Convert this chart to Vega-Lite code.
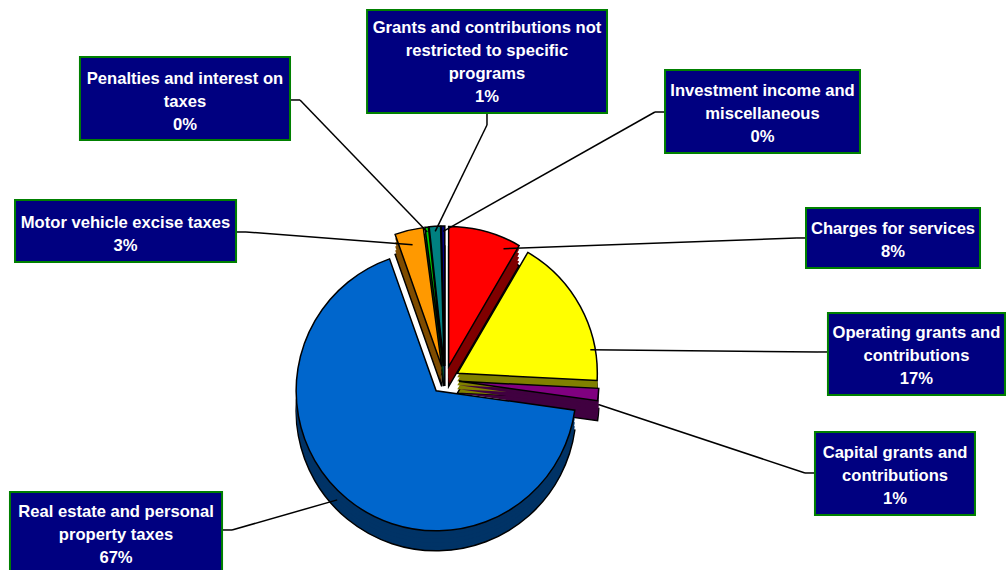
{
  "$schema": "https://vega.github.io/schema/vega-lite/v6.json",
  "width": 1007,
  "height": 570,
  "autosize": {"type": "none"},
  "padding": 0,
  "background": "white",
  "config": {"view": {"stroke": null}},
  "data": {"values": [
    {"key": "charges", "label": "Charges for services", "pct": 8.4, "order": 1},
    {"key": "operating", "label": "Operating grants and\ncontributions", "pct": 17.4, "order": 2},
    {"key": "capital", "label": "Capital grants and\ncontributions", "pct": 1.4, "order": 3},
    {"key": "realestate", "label": "Real estate and personal\nproperty taxes", "pct": 67.4, "order": 4},
    {"key": "motor", "label": "Motor vehicle excise taxes", "pct": 3.3, "order": 5},
    {"key": "penalties", "label": "Penalties and interest on\ntaxes", "pct": 0.4, "order": 6},
    {"key": "grants", "label": "Grants and contributions not\nrestricted to specific\nprograms", "pct": 1.3, "order": 7},
    {"key": "investment", "label": "Investment income and\nmiscellaneous", "pct": 0.4, "order": 8}
  ]},
  "layer": [
    {
      "transform": [{"stack": "pct", "groupby": [], "sort": [{"field": "order", "order": "ascending"}], "offset": "normalize", "as": ["a0", "a1"]}],
      "encoding": {
        "x": {"datum": 44.19, "type": "quantitative", "scale": {"domain": [0, 100]}, "axis": null},
        "y": {"datum": 66.67, "type": "quantitative", "scale": {"domain": [0, 100], "reverse": true}, "axis": null},
        "theta": {"field": "a0", "type": "quantitative", "stack": null, "scale": {"domain": [0, 1]}},
        "theta2": {"field": "a1"}
      },
      "layer": [
        {"mark": {"type": "arc", "radius": 140, "stroke": "black", "strokeWidth": 1.5, "xOffset": {"expr": "14*sin(PI*(datum.a0+datum.a1))"}, "yOffset": {"expr": "20-14*cos(PI*(datum.a0+datum.a1))"}},
         "encoding": {"color": {"field": "key", "type": "nominal", "legend": null, "scale": {"domain": ["charges","operating","capital","realestate","motor","penalties","grants","investment"], "range": ["#800000","#808000","#400040","#003366","#7F4C00","#006600","#004040","#000040"]}}}},
        {"mark": {"type": "arc", "radius": 140, "strokeWidth": 0, "xOffset": {"expr": "14*sin(PI*(datum.a0+datum.a1))"}, "yOffset": {"expr": "16-14*cos(PI*(datum.a0+datum.a1))"}},
         "encoding": {"color": {"field": "key", "type": "nominal", "legend": null}}},
        {"mark": {"type": "arc", "radius": 140, "strokeWidth": 0, "xOffset": {"expr": "14*sin(PI*(datum.a0+datum.a1))"}, "yOffset": {"expr": "12-14*cos(PI*(datum.a0+datum.a1))"}},
         "encoding": {"color": {"field": "key", "type": "nominal", "legend": null}}},
        {"mark": {"type": "arc", "radius": 140, "strokeWidth": 0, "xOffset": {"expr": "14*sin(PI*(datum.a0+datum.a1))"}, "yOffset": {"expr": "8-14*cos(PI*(datum.a0+datum.a1))"}},
         "encoding": {"color": {"field": "key", "type": "nominal", "legend": null}}},
        {"mark": {"type": "arc", "radius": 140, "strokeWidth": 0, "xOffset": {"expr": "14*sin(PI*(datum.a0+datum.a1))"}, "yOffset": {"expr": "4-14*cos(PI*(datum.a0+datum.a1))"}},
         "encoding": {"color": {"field": "key", "type": "nominal", "legend": null}}},
        {"mark": {"type": "arc", "radius": 140, "stroke": "black", "strokeWidth": 1.5, "xOffset": {"expr": "14*sin(PI*(datum.a0+datum.a1))"}, "yOffset": {"expr": "-14*cos(PI*(datum.a0+datum.a1))"}},
         "encoding": {"fill": {"field": "key", "type": "nominal", "legend": null, "scale": {"domain": ["charges","operating","capital","realestate","motor","penalties","grants","investment"], "range": ["#FF0000","#FFFF00","#800080","#0066CC","#FF9900","#00CC00","#008080","#000080"]}}}}
      ]
    },
    {
      "transform": [{"filter": "datum.key==='penalties'"}, {"calculate": "datum.label + '\\n' + format(datum.pct/100, '.0%')", "as": "txt"}],
      "layer": [
        {"mark": {"type": "rule", "color": "black", "strokeWidth": 1.5}, "encoding": {"x": {"datum": 28.80, "type": "quantitative", "scale": {"domain": [0, 100]}, "axis": null}, "x2": {"datum": 29.79}, "y": {"datum": 17.54, "type": "quantitative", "scale": {"domain": [0, 100], "reverse": true}, "axis": null}, "y2": {"datum": 17.54}}},
        {"mark": {"type": "rule", "color": "black", "strokeWidth": 1.5}, "encoding": {"x": {"datum": 29.79, "type": "quantitative", "scale": {"domain": [0, 100]}, "axis": null}, "x2": {"datum": 42.43}, "y": {"datum": 17.54, "type": "quantitative", "scale": {"domain": [0, 100], "reverse": true}, "axis": null}, "y2": {"datum": 40.72}}},
        {"mark": {"type": "rect", "fill": "#000080", "stroke": "#008000", "strokeWidth": 2}, "encoding": {"x": {"datum": 7.94, "type": "quantitative", "scale": {"domain": [0, 100]}, "axis": null}, "x2": {"datum": 28.80}, "y": {"datum": 10.0, "type": "quantitative", "scale": {"domain": [0, 100], "reverse": true}, "axis": null}, "y2": {"datum": 24.56}}},
        {"mark": {"type": "text", "font": "Liberation Sans", "fontWeight": "bold", "fontSize": 16.6, "lineHeight": 23, "fill": "white", "align": "center", "baseline": "middle", "lineBreak": "\n"}, "encoding": {"x": {"datum": 18.37, "type": "quantitative", "scale": {"domain": [0, 100]}, "axis": null}, "y": {"datum": 13.78, "type": "quantitative", "scale": {"domain": [0, 100], "reverse": true}, "axis": null}, "text": {"field": "txt"}}}
      ]
    },
    {
      "transform": [{"filter": "datum.key==='grants'"}, {"calculate": "datum.label + '\\n' + format(datum.pct/100, '.0%')", "as": "txt"}],
      "layer": [
        {"mark": {"type": "rule", "color": "black", "strokeWidth": 1.5}, "encoding": {"x": {"datum": 48.36, "type": "quantitative", "scale": {"domain": [0, 100]}, "axis": null}, "x2": {"datum": 48.36}, "y": {"datum": 19.82, "type": "quantitative", "scale": {"domain": [0, 100], "reverse": true}, "axis": null}, "y2": {"datum": 21.93}}},
        {"mark": {"type": "rule", "color": "black", "strokeWidth": 1.5}, "encoding": {"x": {"datum": 48.36, "type": "quantitative", "scale": {"domain": [0, 100]}, "axis": null}, "x2": {"datum": 43.22}, "y": {"datum": 21.93, "type": "quantitative", "scale": {"domain": [0, 100], "reverse": true}, "axis": null}, "y2": {"datum": 40.58}}},
        {"mark": {"type": "rect", "fill": "#000080", "stroke": "#008000", "strokeWidth": 2}, "encoding": {"x": {"datum": 36.45, "type": "quantitative", "scale": {"domain": [0, 100]}, "axis": null}, "x2": {"datum": 60.28}, "y": {"datum": 1.75, "type": "quantitative", "scale": {"domain": [0, 100], "reverse": true}, "axis": null}, "y2": {"datum": 19.82}}},
        {"mark": {"type": "text", "font": "Liberation Sans", "fontWeight": "bold", "fontSize": 16.6, "lineHeight": 23, "fill": "white", "align": "center", "baseline": "middle", "lineBreak": "\n"}, "encoding": {"x": {"datum": 48.36, "type": "quantitative", "scale": {"domain": [0, 100]}, "axis": null}, "y": {"datum": 4.84, "type": "quantitative", "scale": {"domain": [0, 100], "reverse": true}, "axis": null}, "text": {"field": "txt"}}}
      ]
    },
    {
      "transform": [{"filter": "datum.key==='investment'"}, {"calculate": "datum.label + '\\n' + format(datum.pct/100, '.0%')", "as": "txt"}],
      "layer": [
        {"mark": {"type": "rule", "color": "black", "strokeWidth": 1.5}, "encoding": {"x": {"datum": 66.04, "type": "quantitative", "scale": {"domain": [0, 100]}, "axis": null}, "x2": {"datum": 65.04}, "y": {"datum": 19.65, "type": "quantitative", "scale": {"domain": [0, 100], "reverse": true}, "axis": null}, "y2": {"datum": 19.65}}},
        {"mark": {"type": "rule", "color": "black", "strokeWidth": 1.5}, "encoding": {"x": {"datum": 65.04, "type": "quantitative", "scale": {"domain": [0, 100]}, "axis": null}, "x2": {"datum": 44.01}, "y": {"datum": 19.65, "type": "quantitative", "scale": {"domain": [0, 100], "reverse": true}, "axis": null}, "y2": {"datum": 40.58}}},
        {"mark": {"type": "rect", "fill": "#000080", "stroke": "#008000", "strokeWidth": 2}, "encoding": {"x": {"datum": 66.04, "type": "quantitative", "scale": {"domain": [0, 100]}, "axis": null}, "x2": {"datum": 85.40}, "y": {"datum": 12.28, "type": "quantitative", "scale": {"domain": [0, 100], "reverse": true}, "axis": null}, "y2": {"datum": 26.84}}},
        {"mark": {"type": "text", "font": "Liberation Sans", "fontWeight": "bold", "fontSize": 16.6, "lineHeight": 23, "fill": "white", "align": "center", "baseline": "middle", "lineBreak": "\n"}, "encoding": {"x": {"datum": 75.72, "type": "quantitative", "scale": {"domain": [0, 100]}, "axis": null}, "y": {"datum": 15.89, "type": "quantitative", "scale": {"domain": [0, 100], "reverse": true}, "axis": null}, "text": {"field": "txt"}}}
      ]
    },
    {
      "transform": [{"filter": "datum.key==='motor'"}, {"calculate": "datum.label + '\\n' + format(datum.pct/100, '.0%')", "as": "txt"}],
      "layer": [
        {"mark": {"type": "rule", "color": "black", "strokeWidth": 1.5}, "encoding": {"x": {"datum": 23.44, "type": "quantitative", "scale": {"domain": [0, 100]}, "axis": null}, "x2": {"datum": 24.43}, "y": {"datum": 40.70, "type": "quantitative", "scale": {"domain": [0, 100], "reverse": true}, "axis": null}, "y2": {"datum": 40.70}}},
        {"mark": {"type": "rule", "color": "black", "strokeWidth": 1.5}, "encoding": {"x": {"datum": 24.43, "type": "quantitative", "scale": {"domain": [0, 100]}, "axis": null}, "x2": {"datum": 40.97}, "y": {"datum": 40.70, "type": "quantitative", "scale": {"domain": [0, 100], "reverse": true}, "axis": null}, "y2": {"datum": 42.96}}},
        {"mark": {"type": "rect", "fill": "#000080", "stroke": "#008000", "strokeWidth": 2}, "encoding": {"x": {"datum": 1.49, "type": "quantitative", "scale": {"domain": [0, 100]}, "axis": null}, "x2": {"datum": 23.44}, "y": {"datum": 35.09, "type": "quantitative", "scale": {"domain": [0, 100], "reverse": true}, "axis": null}, "y2": {"datum": 45.96}}},
        {"mark": {"type": "text", "font": "Liberation Sans", "fontWeight": "bold", "fontSize": 16.6, "lineHeight": 23, "fill": "white", "align": "center", "baseline": "middle", "lineBreak": "\n"}, "encoding": {"x": {"datum": 12.46, "type": "quantitative", "scale": {"domain": [0, 100]}, "axis": null}, "y": {"datum": 39.05, "type": "quantitative", "scale": {"domain": [0, 100], "reverse": true}, "axis": null}, "text": {"field": "txt"}}}
      ]
    },
    {
      "transform": [{"filter": "datum.key==='charges'"}, {"calculate": "datum.label + '\\n' + format(datum.pct/100, '.0%')", "as": "txt"}],
      "layer": [
        {"mark": {"type": "rule", "color": "black", "strokeWidth": 1.5}, "encoding": {"x": {"datum": 80.04, "type": "quantitative", "scale": {"domain": [0, 100]}, "axis": null}, "x2": {"datum": 79.05}, "y": {"datum": 41.75, "type": "quantitative", "scale": {"domain": [0, 100], "reverse": true}, "axis": null}, "y2": {"datum": 41.75}}},
        {"mark": {"type": "rule", "color": "black", "strokeWidth": 1.5}, "encoding": {"x": {"datum": 79.05, "type": "quantitative", "scale": {"domain": [0, 100]}, "axis": null}, "x2": {"datum": 50.00}, "y": {"datum": 41.75, "type": "quantitative", "scale": {"domain": [0, 100], "reverse": true}, "axis": null}, "y2": {"datum": 43.63}}},
        {"mark": {"type": "rect", "fill": "#000080", "stroke": "#008000", "strokeWidth": 2}, "encoding": {"x": {"datum": 80.04, "type": "quantitative", "scale": {"domain": [0, 100]}, "axis": null}, "x2": {"datum": 97.32}, "y": {"datum": 36.49, "type": "quantitative", "scale": {"domain": [0, 100], "reverse": true}, "axis": null}, "y2": {"datum": 47.02}}},
        {"mark": {"type": "text", "font": "Liberation Sans", "fontWeight": "bold", "fontSize": 16.6, "lineHeight": 23, "fill": "white", "align": "center", "baseline": "middle", "lineBreak": "\n"}, "encoding": {"x": {"datum": 88.68, "type": "quantitative", "scale": {"domain": [0, 100]}, "axis": null}, "y": {"datum": 40.10, "type": "quantitative", "scale": {"domain": [0, 100], "reverse": true}, "axis": null}, "text": {"field": "txt"}}}
      ]
    },
    {
      "transform": [{"filter": "datum.key==='operating'"}, {"calculate": "datum.label + '\\n' + format(datum.pct/100, '.0%')", "as": "txt"}],
      "layer": [
        {"mark": {"type": "rule", "color": "black", "strokeWidth": 1.5}, "encoding": {"x": {"datum": 82.22, "type": "quantitative", "scale": {"domain": [0, 100]}, "axis": null}, "x2": {"datum": 81.23}, "y": {"datum": 61.75, "type": "quantitative", "scale": {"domain": [0, 100], "reverse": true}, "axis": null}, "y2": {"datum": 61.75}}},
        {"mark": {"type": "rule", "color": "black", "strokeWidth": 1.5}, "encoding": {"x": {"datum": 81.23, "type": "quantitative", "scale": {"domain": [0, 100]}, "axis": null}, "x2": {"datum": 58.62}, "y": {"datum": 61.75, "type": "quantitative", "scale": {"domain": [0, 100], "reverse": true}, "axis": null}, "y2": {"datum": 61.38}}},
        {"mark": {"type": "rect", "fill": "#000080", "stroke": "#008000", "strokeWidth": 2}, "encoding": {"x": {"datum": 82.22, "type": "quantitative", "scale": {"domain": [0, 100]}, "axis": null}, "x2": {"datum": 99.80}, "y": {"datum": 54.91, "type": "quantitative", "scale": {"domain": [0, 100], "reverse": true}, "axis": null}, "y2": {"datum": 69.30}}},
        {"mark": {"type": "text", "font": "Liberation Sans", "fontWeight": "bold", "fontSize": 16.6, "lineHeight": 23, "fill": "white", "align": "center", "baseline": "middle", "lineBreak": "\n"}, "encoding": {"x": {"datum": 91.01, "type": "quantitative", "scale": {"domain": [0, 100]}, "axis": null}, "y": {"datum": 58.34, "type": "quantitative", "scale": {"domain": [0, 100], "reverse": true}, "axis": null}, "text": {"field": "txt"}}}
      ]
    },
    {
      "transform": [{"filter": "datum.key==='capital'"}, {"calculate": "datum.label + '\\n' + format(datum.pct/100, '.0%')", "as": "txt"}],
      "layer": [
        {"mark": {"type": "rule", "color": "black", "strokeWidth": 1.5}, "encoding": {"x": {"datum": 80.93, "type": "quantitative", "scale": {"domain": [0, 100]}, "axis": null}, "x2": {"datum": 79.94}, "y": {"datum": 82.98, "type": "quantitative", "scale": {"domain": [0, 100], "reverse": true}, "axis": null}, "y2": {"datum": 82.98}}},
        {"mark": {"type": "rule", "color": "black", "strokeWidth": 1.5}, "encoding": {"x": {"datum": 79.94, "type": "quantitative", "scale": {"domain": [0, 100]}, "axis": null}, "x2": {"datum": 59.42}, "y": {"datum": 82.98, "type": "quantitative", "scale": {"domain": [0, 100], "reverse": true}, "axis": null}, "y2": {"datum": 70.96}}},
        {"mark": {"type": "rect", "fill": "#000080", "stroke": "#008000", "strokeWidth": 2}, "encoding": {"x": {"datum": 80.93, "type": "quantitative", "scale": {"domain": [0, 100]}, "axis": null}, "x2": {"datum": 96.82}, "y": {"datum": 75.79, "type": "quantitative", "scale": {"domain": [0, 100], "reverse": true}, "axis": null}, "y2": {"datum": 90.35}}},
        {"mark": {"type": "text", "font": "Liberation Sans", "fontWeight": "bold", "fontSize": 16.6, "lineHeight": 23, "fill": "white", "align": "center", "baseline": "middle", "lineBreak": "\n"}, "encoding": {"x": {"datum": 88.88, "type": "quantitative", "scale": {"domain": [0, 100]}, "axis": null}, "y": {"datum": 79.40, "type": "quantitative", "scale": {"domain": [0, 100], "reverse": true}, "axis": null}, "text": {"field": "txt"}}}
      ]
    },
    {
      "transform": [{"filter": "datum.key==='realestate'"}, {"calculate": "datum.label + '\\n' + format(datum.pct/100, '.0%')", "as": "txt"}],
      "layer": [
        {"mark": {"type": "rule", "color": "black", "strokeWidth": 1.5}, "encoding": {"x": {"datum": 22.05, "type": "quantitative", "scale": {"domain": [0, 100]}, "axis": null}, "x2": {"datum": 23.04}, "y": {"datum": 92.98, "type": "quantitative", "scale": {"domain": [0, 100], "reverse": true}, "axis": null}, "y2": {"datum": 92.98}}},
        {"mark": {"type": "rule", "color": "black", "strokeWidth": 1.5}, "encoding": {"x": {"datum": 23.04, "type": "quantitative", "scale": {"domain": [0, 100]}, "axis": null}, "x2": {"datum": 33.49}, "y": {"datum": 92.98, "type": "quantitative", "scale": {"domain": [0, 100], "reverse": true}, "axis": null}, "y2": {"datum": 87.70}}},
        {"mark": {"type": "rect", "fill": "#000080", "stroke": "#008000", "strokeWidth": 2}, "encoding": {"x": {"datum": 0.99, "type": "quantitative", "scale": {"domain": [0, 100]}, "axis": null}, "x2": {"datum": 22.05}, "y": {"datum": 86.32, "type": "quantitative", "scale": {"domain": [0, 100], "reverse": true}, "axis": null}, "y2": {"datum": 100.88}}},
        {"mark": {"type": "text", "font": "Liberation Sans", "fontWeight": "bold", "fontSize": 16.6, "lineHeight": 23, "fill": "white", "align": "center", "baseline": "middle", "lineBreak": "\n"}, "encoding": {"x": {"datum": 11.52, "type": "quantitative", "scale": {"domain": [0, 100]}, "axis": null}, "y": {"datum": 89.75, "type": "quantitative", "scale": {"domain": [0, 100], "reverse": true}, "axis": null}, "text": {"field": "txt"}}}
      ]
    }
  ]
}
